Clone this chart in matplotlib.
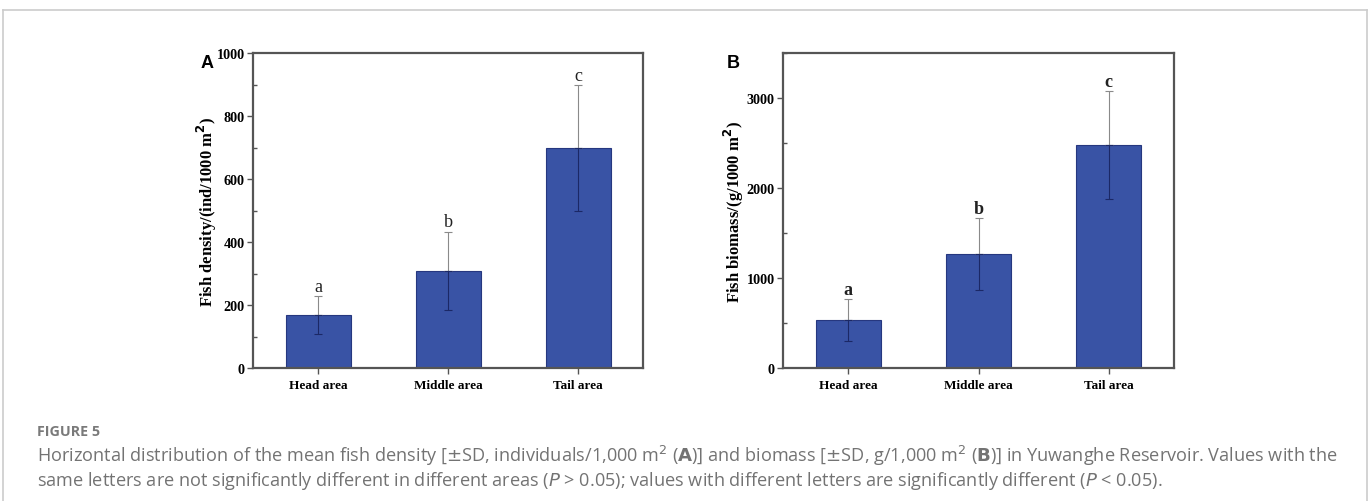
import matplotlib
matplotlib.use("Agg")
import matplotlib.pyplot as plt
from matplotlib.lines import Line2D
from matplotlib.ticker import MultipleLocator

categories = ["Head area", "Middle area", "Tail area"]
density_mean = [169, 308, 697]
density_sd = [60, 125, 200]
biomass_mean = [535, 1265, 2480]
biomass_sd = [230, 398, 599]
letters = ["a", "b", "c"]

W, H = 1370, 502
fig = plt.figure(figsize=(W / 100, H / 100), dpi=100)

bar_color = "#3953a5"
edge_color = "#26377f"
spine_color = "#555555"
serif = ["Liberation Serif", "DejaVu Serif"]


def px_axes(l, t, r, b):
    return fig.add_axes([l / W, 1 - b / H, (r - l) / W, (b - t) / H])


def panel(ax, means, sds, ylim, major, minor, ylabel, label_x, letter_bold):
    x = list(range(len(categories)))
    zeros = [0] * len(sds)
    ax.bar(x, means, width=0.5, color=bar_color, edgecolor=edge_color, linewidth=0.8, zorder=2)
    ax.errorbar(x, means, yerr=[zeros, sds], fmt="none", ecolor="#8a8a8a", elinewidth=0.8,
                capsize=3, capthick=0.8, zorder=3)
    ax.errorbar(x, means, yerr=[sds, zeros], fmt="none", ecolor="#1b2866", elinewidth=0.8,
                capsize=3, capthick=0.8, zorder=3)
    for xi, m, s, l in zip(x, means, sds, letters):
        ax.text(xi, m + s + ylim * 0.004, l, ha="center", va="bottom",
                family=serif, fontsize=13,
                fontweight="bold" if letter_bold else "normal", color="#222222")
    ax.set_xlim(-0.5, 2.5)
    ax.set_ylim(0, ylim)
    ax.set_xticks(x)
    ax.set_xticklabels(categories, family=serif, fontweight="bold", fontsize=9.5)
    ax.yaxis.set_major_locator(MultipleLocator(major))
    ax.yaxis.set_minor_locator(MultipleLocator(minor))
    for lab in ax.get_yticklabels():
        lab.set_family(serif)
        lab.set_fontweight("bold")
        lab.set_fontsize(10.2)
    ax.tick_params(axis="y", which="major", direction="out", length=4, width=1, color=spine_color, pad=2)
    ax.tick_params(axis="y", which="minor", direction="in", length=3, width=1, color=spine_color)
    ax.tick_params(axis="x", which="major", direction="out", length=4, width=1, color=spine_color, pad=4)
    for sp in ax.spines.values():
        sp.set_color(spine_color)
        sp.set_linewidth(1.6)
    fig.text(label_x / W, 1 - 212 / H, ylabel, family=serif, fontweight="bold", fontsize=12,
             rotation=90, ha="center", va="center")
    return ax


axA = px_axes(253, 54, 643, 369)
panel(axA, density_mean, density_sd, 1000, 200, 100,
      r"Fish density/(ind/1000 m$^\mathbf{2}$)", 207, False)
axB = px_axes(783, 54, 1174, 369)
panel(axB, biomass_mean, biomass_sd, 3500, 1000, 500,
      r"Fish biomass/(g/1000 m$^\mathbf{2}$)", 734, True)

fig.text(207 / W, 1 - 63 / H, "A", family="Liberation Sans", fontweight="bold",
         fontsize=13, ha="center", va="center")
fig.text(733 / W, 1 - 63 / H, "B", family="Liberation Sans", fontweight="bold",
         fontsize=13, ha="center", va="center")

# outer frame
fc = "#cccccc"
fig.add_artist(Line2D([3 / W, 1367 / W], [1 - 11 / H, 1 - 11 / H], color=fc, lw=1.2))
fig.add_artist(Line2D([3 / W, 3 / W], [0, 1 - 11 / H], color=fc, lw=1.2))
fig.add_artist(Line2D([1367 / W, 1367 / W], [0, 1 - 11 / H], color=fc, lw=1.2))

cap_font = ["Open Sans", "DejaVu Sans"]
cap_color = "#737373"
fig.text(37 / W, 1 - 432 / H, "FIGURE 5", family=cap_font, fontweight="bold",
         fontsize=10.3, color="#7a7a7a", va="center", ha="left")
line1 = (r"Horizontal distribution of the mean fish density [$\pm$SD, individuals/1,000 m$^{2}$ "
         r"($\mathbf{A}$)] and biomass [$\pm$SD, g/1,000 m$^{2}$ ($\mathbf{B}$)] in Yuwanghe Reservoir. "
         r"Values with the")
line2 = (r"same letters are not significantly different in different areas ($P$ > 0.05); values with "
         r"different letters are significantly different ($P$ < 0.05).")
fig.text(37 / W, 1 - 456 / H, line1, family=cap_font, fontsize=13.1, color=cap_color,
         va="center", ha="left")
fig.text(37 / W, 1 - 481 / H, line2, family=cap_font, fontsize=13.1, color=cap_color,
         va="center", ha="left")

fig.savefig("out.png", dpi=100)
